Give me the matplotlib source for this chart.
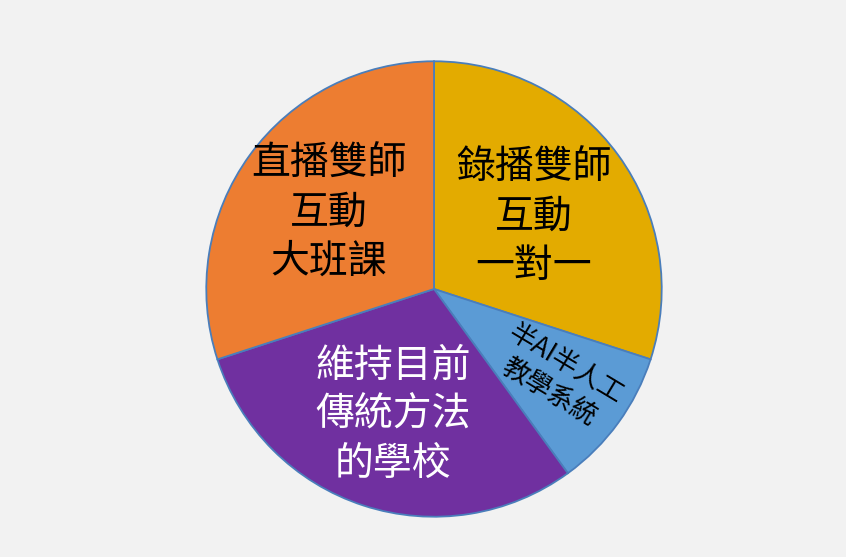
import numpy as np
import matplotlib
matplotlib.use("Agg")
import matplotlib.pyplot as plt

plt.rcParams['font.family'] = ['Noto Sans CJK TC', 'DejaVu Sans']

labels = ["錄播雙師\n互動\n一對一", "半AI半人工\n教學系統", "維持目前\n傳統方法\n的學校", "直播雙師\n互動\n大班課"]
values = [30, 10, 30, 30]
colors = ["#E3AB00", "#5B9BD5", "#7030A0", "#ED7D31"]
text_colors = ["black", "black", "white", "black"]
font_sizes = [28, 19, 28, 28]
label_dist = [0.54, 0.67, 0.58, 0.57]
rotations = [0, -31, 0, 0]

W, H = 846, 557
fig = plt.figure(figsize=(W / 100, H / 100), dpi=100)
fig.patch.set_facecolor("#F2F2F2")
cx, cy, r = 434, 289, 230
ax = fig.add_axes([(cx - r) / W, (H - cy - r) / H, 2 * r / W, 2 * r / H])
ax.set_facecolor("#F2F2F2")
wedges, _ = ax.pie(values, colors=colors, startangle=90, counterclock=False,
                   radius=1.0, wedgeprops=dict(edgecolor="#4A7EBB", linewidth=1.3))
ax.set_xlim(-1.01, 1.01)
ax.set_ylim(-1.01, 1.01)
ax.set_aspect("equal")
ax.axis("off")

for w, lab, tc, fs, d, rot in zip(wedges, labels, text_colors, font_sizes, label_dist, rotations):
    ang = np.deg2rad((w.theta1 + w.theta2) / 2)
    ax.text(d * np.cos(ang), d * np.sin(ang), lab, ha="center", va="center",
            color=tc, fontsize=fs, linespacing=1.3, rotation=rot,
            rotation_mode="anchor")

fig.savefig("out.png", dpi=100, facecolor=fig.get_facecolor())
